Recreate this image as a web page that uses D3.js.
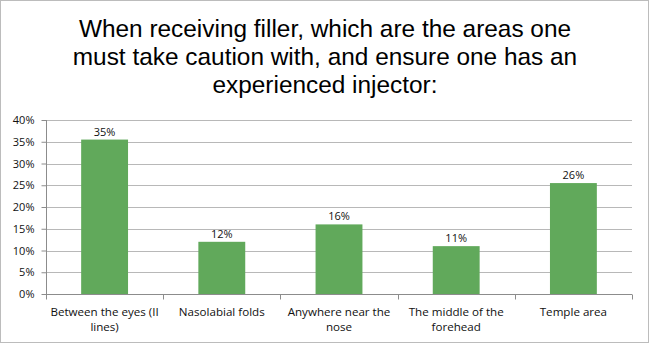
<!DOCTYPE html>
<html>
<head>
<meta charset="utf-8" />
<script src="https://d3js.org/d3.v7.min.js"></script>
<style>
  body { margin: 0; background: #fff; }
  svg { display: block; }
</style>
</head>
<body>
<svg id="chart"></svg>
<script>
// chart data
var categories = ["Between the eyes (II lines)", "Nasolabial folds", "Anywhere near the nose", "The middle of the forehead", "Temple area"];
var tickLines = [["Between the eyes (II", "lines)"], ["Nasolabial folds"], ["Anywhere near the", "nose"], ["The middle of the", "forehead"], ["Temple area"]];
var values = [0.355, 0.12, 0.16, 0.11, 0.255];
var valueLabels = ["35%", "12%", "16%", "11%", "26%"];
var yTicks = [0, 0.05, 0.10, 0.15, 0.20, 0.25, 0.30, 0.35, 0.40];
var titleLines = ["When receiving filler, which are the areas one", "must take caution with, and ensure one has an", "experienced injector:"];

var width = 650, height = 345;
var margin = {top: 120, right: 18, bottom: 51, left: 46};

var svg = d3.select("#chart")
  .attr("width", width)
  .attr("height", height);

// outer frame
svg.append("rect")
  .attr("x", 0.5).attr("y", 0.5)
  .attr("width", 648).attr("height", 342)
  .attr("fill", "#fff")
  .attr("stroke", "#bcbcbc");

// title
svg.append("g").selectAll("text")
  .data(titleLines)
  .enter().append("text")
  .attr("x", 325)
  .attr("y", function(d, i) { return 36.5 + i * 28; })
  .attr("text-anchor", "middle")
  .attr("font-family", "Liberation Sans, Arial, sans-serif")
  .attr("font-size", "24.4px")
  .attr("fill", "#000")
  .text(function(d) { return d; });

var x = d3.scaleBand()
  .domain(categories)
  .range([margin.left, width - margin.right])
  .paddingInner(0.6)
  .paddingOuter(0.3);

var y = d3.scaleLinear()
  .domain([0, 0.4])
  .range([height - margin.bottom, margin.top]);

// gridlines
svg.append("g").selectAll("line")
  .data(yTicks.slice(1))
  .enter().append("line")
  .attr("x1", margin.left)
  .attr("x2", width - margin.right)
  .attr("y1", function(d) { return Math.round(y(d)) + 0.5; })
  .attr("y2", function(d) { return Math.round(y(d)) + 0.5; })
  .attr("stroke", "#b8b8b8")
  .attr("stroke-width", 1);

// bars
svg.append("g").selectAll("rect")
  .data(values)
  .enter().append("rect")
  .attr("x", function(d, i) { return x(categories[i]); })
  .attr("width", x.bandwidth())
  .attr("y", function(d) { return y(d); })
  .attr("height", function(d) { return y(0) - y(d); })
  .attr("fill", "#61a95b");

// value labels
svg.append("g").selectAll("text")
  .data(values)
  .enter().append("text")
  .attr("x", function(d, i) { return x(categories[i]) + x.bandwidth() / 2; })
  .attr("y", function(d) { return y(d) - 4; })
  .attr("text-anchor", "middle")
  .attr("font-family", "Open Sans, sans-serif")
  .attr("font-size", "11px")
  .attr("fill", "#111")
  .text(function(d, i) { return valueLabels[i]; });

// y axis
var yAxis = d3.axisLeft(y)
  .tickValues(yTicks)
  .tickFormat(d3.format(".0%"))
  .tickSize(5)
  .tickPadding(7);

var gy = svg.append("g")
  .attr("transform", "translate(" + (margin.left + 0.5) + ",0)")
  .call(yAxis);
gy.select(".domain").attr("stroke", "#8c8c8c").attr("d", "M0," + (y(0.4)) + "V" + (Math.round(y(0)) + 0.5));
gy.selectAll(".tick line").attr("stroke", "#8c8c8c");
gy.selectAll(".tick text")
  .attr("font-family", "Open Sans, sans-serif")
  .attr("font-size", "11px")
  .attr("fill", "#111");

// x axis (category boundaries as ticks)
var bandStep = x.step();
var xStart = margin.left;
var boundaries = d3.range(categories.length + 1).map(function(i) { return xStart + i * bandStep; });
var gx = svg.append("g");
gx.append("line")
  .attr("x1", margin.left)
  .attr("x2", width - margin.right)
  .attr("y1", Math.round(y(0)) + 0.5)
  .attr("y2", Math.round(y(0)) + 0.5)
  .attr("stroke", "#8c8c8c");
gx.selectAll(".btick")
  .data(boundaries)
  .enter().append("line")
  .attr("class", "btick")
  .attr("x1", function(d) { return Math.round(d) + 0.5; })
  .attr("x2", function(d) { return Math.round(d) + 0.5; })
  .attr("y1", Math.round(y(0)) + 0.5)
  .attr("y2", Math.round(y(0)) + 5.5)
  .attr("stroke", "#8c8c8c");

var labels = gx.selectAll(".xlabel")
  .data(categories)
  .enter().append("text")
  .attr("class", "xlabel")
  .attr("text-anchor", "middle")
  .attr("font-family", "Open Sans, sans-serif")
  .attr("font-size", "11.6px")
  .attr("fill", "#111");
labels.each(function(d, i) {
  var t = d3.select(this);
  tickLines[i].forEach(function(line, j) {
    t.append("tspan")
      .attr("x", x(d) + x.bandwidth() / 2)
      .attr("y", y(0) + 22 + j * 15)
      .text(line);
  });
});
</script>
</body>
</html>
